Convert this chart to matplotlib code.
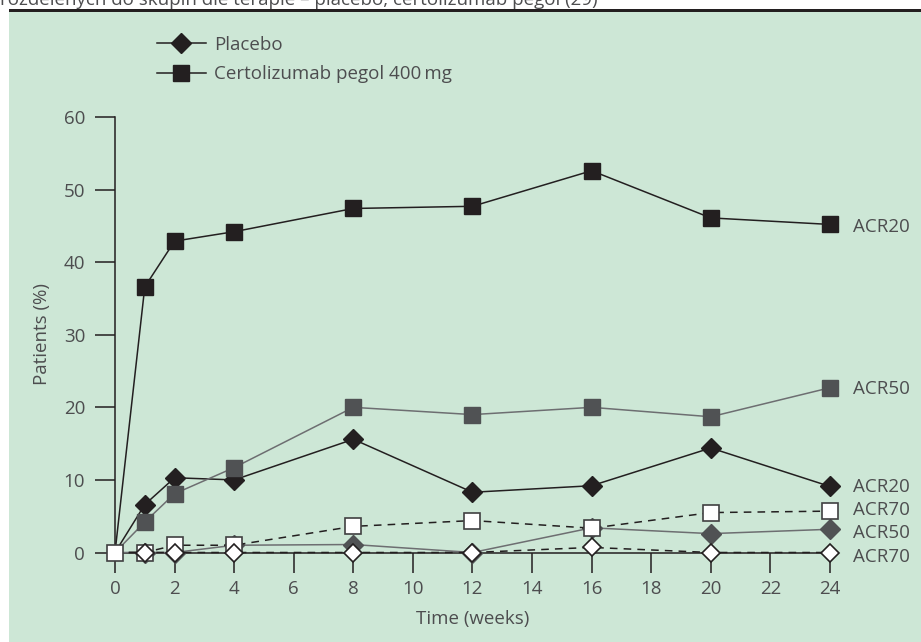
import matplotlib.pyplot as plt
from matplotlib.lines import Line2D
from matplotlib.patches import Rectangle

# weeks of assessment
weeks = [0, 1, 2, 4, 8, 12, 16, 20, 24]

# response rates (% of patients)
cert_acr20 = [0, 36.6, 42.9, 44.2, 47.4, 47.7, 52.6, 46.1, 45.2]
cert_acr50 = [0, 4.2, 8.1, 11.7, 20.0, 19.0, 20.0, 18.7, 22.7]
cert_acr70 = [0, 0, 1.0, 1.0, 3.6, 4.4, 3.35, 5.5, 5.7]
plac_acr20 = [0, 6.6, 10.3, 10.0, 15.6, 8.3, 9.2, 14.4, 9.1]
plac_acr50 = [0, 0, 0, 1.0, 1.1, 0, 3.4, 2.6, 3.2]
plac_acr70 = [0, 0, 0, 0, 0, 0, 0.7, 0, 0]

end_labels = ['ACR20', 'ACR50', 'ACR20', 'ACR70', 'ACR50', 'ACR70']
end_label_y = [44.9, 22.5, 9.0, 5.9, 2.7, -0.6]

yticks = [0, 10, 20, 30, 40, 50, 60]
xticks = [0, 2, 4, 6, 8, 10, 12, 14, 16, 18, 20, 22, 24]

BG = '#cde7d6'
DARK = '#231f20'
GREY = '#505254'
GREY_LINE = '#6d6e71'
EDGE = '#404041'
TXT = '#4d4d4f'

plt.rcParams['font.family'] = ['Open Sans', 'DejaVu Sans']
FS = 13.5

W, H = 921, 642
fig = plt.figure(figsize=(W / 100, H / 100), dpi=100, facecolor='white')

# green panel and the rule above it
fig.patches.append(Rectangle((9 / W, 0), 1, 1 - 12 / H, transform=fig.transFigure,
                             facecolor=BG, edgecolor='none', zorder=-10))
fig.patches.append(Rectangle((9 / W, 1 - 12 / H), 1, 3 / H, transform=fig.transFigure,
                             facecolor=DARK, edgecolor='none', zorder=-9))
fig.text(0.0, 1 - 5 / H, 'rozdělených do skupin dle terapie – placebo, certolizumab pegol (29)',
         fontsize=FS, color=TXT, va='baseline', ha='left')

ax = fig.add_axes([0, 0, 1, 1])
ax.set_facecolor('none')
ax.set_xlim(-115 / 29.79, (W - 115) / 29.79)
ax.set_ylim(-(H - 552.5) / 7.258, 552.5 / 7.258)

for s in ['top', 'right']:
    ax.spines[s].set_visible(False)
ax.spines['left'].set_position(('data', 0))
ax.spines['bottom'].set_position(('data', 0))
ax.spines['left'].set_bounds(0, 60)
ax.spines['bottom'].set_bounds(0, 24)
for s in ['left', 'bottom']:
    ax.spines[s].set_color(DARK)
    ax.spines[s].set_linewidth(1.1)

ax.set_xticks(xticks)
ax.set_yticks(yticks)
ax.tick_params(direction='out', length=14.5, width=1.1, color=DARK,
               labelsize=FS, labelcolor=TXT)
ax.tick_params(axis='y', pad=7)
ax.tick_params(axis='x', pad=5)

lw = 1.1
ms_sq = 12
ms_d = 10
skip0 = slice(1, None)

ax.plot(weeks, plac_acr20, color=DARK, lw=lw, marker='D', ms=ms_d, mfc=DARK, mec=DARK,
        markevery=skip0, zorder=3, clip_on=False)
ax.plot(weeks, cert_acr20, color=DARK, lw=lw, marker='s', ms=ms_sq, mfc=DARK, mec=DARK,
        markevery=skip0, zorder=4, clip_on=False)
ax.plot(weeks, cert_acr50, color=GREY_LINE, lw=lw, marker='s', ms=ms_sq, mfc=GREY, mec=GREY,
        markevery=skip0, zorder=5, clip_on=False)
ax.plot(weeks, plac_acr50, color=GREY_LINE, lw=lw, marker='D', ms=ms_d, mfc=GREY, mec=GREY,
        markevery=skip0, zorder=6, clip_on=False)
ax.plot(weeks, cert_acr70, color=DARK, lw=lw, dashes=(5, 4), marker='s', ms=ms_sq - 1,
        mfc='white', mec=EDGE, mew=1.2, markevery=skip0, zorder=7, clip_on=False)
ax.plot(weeks, plac_acr70, color=DARK, lw=lw, dashes=(5, 4), marker='D', ms=ms_d - 0.5,
        mfc='white', mec=DARK, mew=1.2, markevery=skip0, zorder=8, clip_on=False)
# common baseline marker
ax.plot(weeks[:1], cert_acr70[:1], ls='none', marker='s', ms=ms_sq - 1, mfc='white',
        mec=EDGE, mew=1.2, zorder=9, clip_on=False)

for lab, y in zip(end_labels, end_label_y):
    ax.text(24.77, y, lab, fontsize=FS, color=TXT, va='center', ha='left')

fig.text(473 / W, 1 - 619 / H, 'Time (weeks)', fontsize=FS, color=TXT, ha='center', va='center')
fig.text(42 / W, 1 - 334 / H, 'Patients (%)', fontsize=FS, color=TXT, ha='center', va='center',
         rotation=90)

handles = [
    Line2D([], [], color=DARK, lw=lw, marker='D', ms=ms_d, mfc=DARK, mec=DARK),
    Line2D([], [], color=DARK, lw=lw, marker='s', ms=ms_sq, mfc=DARK, mec=DARK),
]
fig.legend(handles, ['Placebo', 'Certolizumab pegol 400\u2009mg'], loc='upper left',
           bbox_to_anchor=(157 / W, 1 - 36 / H), frameon=False, fontsize=FS,
           handlelength=2.6, handletextpad=0.45, labelspacing=0.6, numpoints=1,
           labelcolor=TXT, borderaxespad=0, borderpad=0)

fig.savefig('out.png', dpi=100, facecolor='white')
